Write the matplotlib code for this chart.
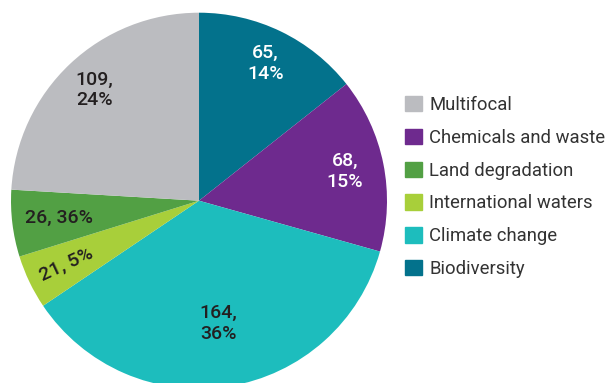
import matplotlib
matplotlib.use("Agg")
import matplotlib.pyplot as plt
import matplotlib.patches as mpatches
import numpy as np

plt.rcParams['font.family'] = ['Roboto', 'DejaVu Sans']

# clockwise from 12 o'clock
categories = ['Biodiversity', 'Chemicals and waste', 'Climate change',
              'International waters', 'Land degradation', 'Multifocal']
values = [65, 68, 164, 21, 26, 109]
slice_labels = ['65,\n14%', '68,\n15%', '164,\n36%', '21, 5%', '26, 36%', '109,\n24%']
colors = ['#03728c', '#6e2a8e', '#1dbdbd', '#a8cf3a', '#52a044', '#bbbcc0']
legend_order = ['Multifocal', 'Chemicals and waste', 'Land degradation',
                'International waters', 'Climate change', 'Biodiversity']

# label layout
label_radius = [0.81, 0.79, 0.66, 0.78, 0.75, 0.81]
label_rotation = [0, 0, 0, 25, 0, 0]
label_color = ['white', 'white', '#231f20', '#231f20', '#231f20', '#231f20']

W, H = 609, 383
fig = plt.figure(figsize=(W / 100, H / 100), dpi=100)

cx, cy, R = 199, 200.7, 188
ax = fig.add_axes([(cx - R) / W, (H - cy - R) / H, 2 * R / W, 2 * R / H])
wedges, _ = ax.pie(values, colors=colors, startangle=90, counterclock=False,
                   radius=1, wedgeprops=dict(linewidth=0))
ax.set_xlim(-1, 1)
ax.set_ylim(-1, 1)
ax.set_aspect('auto')

for w, lab, r, rot, c in zip(wedges, slice_labels, label_radius, label_rotation, label_color):
    mid = np.deg2rad((w.theta1 + w.theta2) / 2)
    ax.text(r * np.cos(mid), r * np.sin(mid), lab, ha='center', va='center',
            fontsize=14, fontweight='medium', color=c, rotation=rot, linespacing=1.2)

handles = [mpatches.Patch(color=colors[categories.index(n)], label=n) for n in legend_order]
fig.legend(handles=handles, loc='center left', bbox_to_anchor=(405 / W, 1 - 187 / H),
           frameon=False, fontsize=13.3, handlelength=0.9, handleheight=0.9,
           handletextpad=0.4, labelspacing=0.8, borderpad=0, borderaxespad=0,
           labelcolor='#333333')

fig.savefig('out.png', dpi=100)
